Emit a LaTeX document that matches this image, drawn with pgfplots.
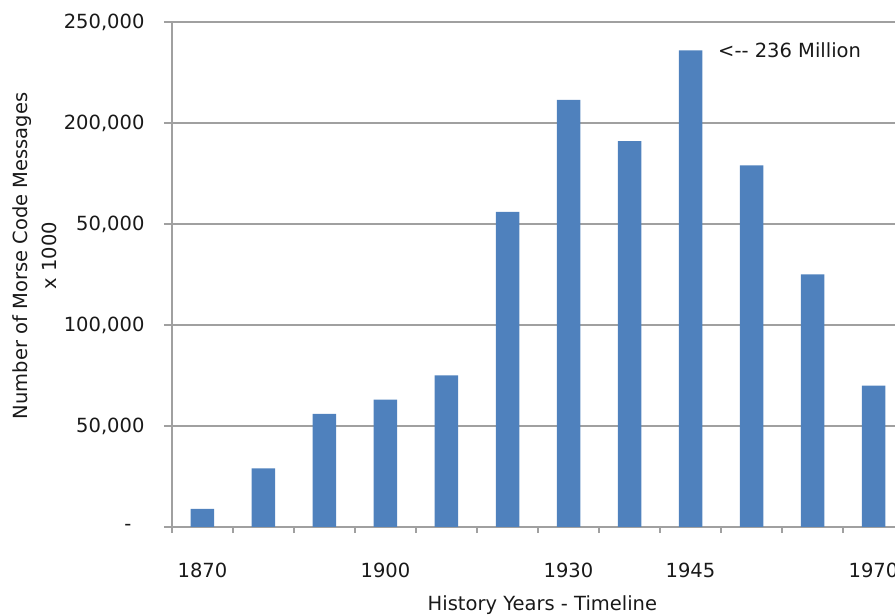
\documentclass[border=0pt]{standalone}
\usepackage{pgfplots}
\pgfplotsset{compat=1.18}
\usepackage{fontspec}
\setmainfont{DejaVu Sans}
\definecolor{barblue}{RGB}{79,129,189}
\definecolor{gridgray}{RGB}{160,160,160}
\definecolor{txt}{RGB}{25,25,25}
\newcommand{\chartfont}{\fontsize{19.5}{29}\selectfont}
\begin{document}
\begin{tikzpicture}
\useasboundingbox (-172pt,-89pt) rectangle (723pt,527pt);
\begin{axis}[
  at={(0pt,0pt)}, anchor=south west,
  scale only axis, width=732pt, height=505pt,
  xmin=-0.5, xmax=11.5, ymin=0, ymax=250000,
  axis x line*=bottom, axis y line*=left,
  axis line style={gridgray, line width=1.5pt, -},
  ymajorgrids,
  major grid style={gridgray, line width=1.5pt},
  tick align=outside,
  major tick length=8pt,
  minor tick length=6pt,
  tick style={gridgray, line width=1.5pt},
  xtick={0,3,6,8,11},
  xticklabels={1870,1900,1930,1945,1970},
  major x tick style={draw=none},
  minor xtick={-0.5,0.5,...,11.5},
  ytick={0,50000,100000,150000,200000,250000},
  yticklabels={{-\kern13pt},{50,000},{100,000},{50,000},{200,000},{250,000}},
  scaled y ticks=false,
  every tick label/.append style={font=\chartfont, text=txt},
  xticklabel style={yshift=-24pt},
  yticklabel style={xshift=-16pt},
  xlabel={History Years - Timeline},
  ylabel={Number of Morse Code Messages\\x 1000},
  xlabel style={at={(axis description cs:0.506,-0.1545)}, anchor=center, font=\chartfont, text=txt},
  ylabel style={at={(axis description cs:-0.1872,0.537)}, anchor=center, align=center, font=\chartfont, text=txt},
]
\addplot[ybar, bar width=23.5pt, fill=barblue, draw=none] coordinates {
  (0,9000) (1,29000) (2,56000) (3,63000) (4,75000) (5,156000)
  (6,211500) (7,191000) (8,236000) (9,179000) (10,125000) (11,70000)
};
\node[anchor=west, inner sep=0pt, font=\chartfont, text=txt, xshift=27.5pt] at (axis cs:8,236000) {<-{}- 236 Million};
\end{axis}
\end{tikzpicture}
\end{document}
